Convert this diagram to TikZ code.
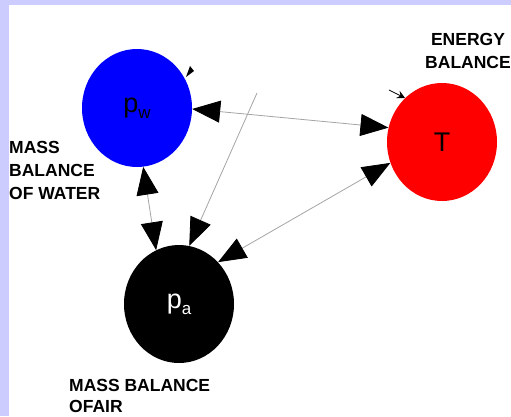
\documentclass[tikz,border=0pt]{standalone}
\usepackage{fontspec}
\setmainfont{Liberation Sans}
\usetikzlibrary{arrows.meta,shapes.geometric}
\definecolor{lav}{RGB}{204,204,255}
\definecolor{linegray}{RGB}{165,165,165}
\begin{document}
\begin{tikzpicture}[x=1pt,y=-1pt,
  ball/.style={ellipse,minimum width=110pt,minimum height=118pt,inner sep=0pt,draw=none},
  lbl/.style={anchor=base west,inner sep=0pt,font=\fontsize{17.5}{21}\selectfont\bfseries},
  lblc/.style={anchor=base,inner sep=0pt,font=\fontsize{17.5}{21}\selectfont\bfseries},
  conn/.style={draw=linegray,line width=0.8pt},
  bigtip/.tip={Triangle[length=28pt,width=22pt,fill=black,color=black]},
  smalltip/.tip={Stealth[length=8pt,width=8pt,inset=3pt,color=black]},
  bigfont/.style={font=\fontsize{27}{27}\selectfont}
]
\useasboundingbox (0,0) rectangle (511,416);
\fill[lav] (0,0) rectangle (511,416);
\fill[white] (9,5) rectangle (511,416);

\node[ball,fill=blue,bigfont] (pw) at (137,108) {p\raisebox{-6pt}{\fontsize{17}{17}\selectfont w}};
\node[ball,fill=red,bigfont] (T) at (442,142) {T};
\node[ball,fill=black,text=white,bigfont] (pa) at (179,304) {p\raisebox{-6pt}{\fontsize{17}{17}\selectfont a}};

\coordinate (f) at (257,93);
\draw[conn,{bigtip}-{bigtip}] (pw.-1) -- (T.165);
\draw[conn,{bigtip}-{bigtip}] (pw.-84) -- (pa.113);
\draw[conn,-{bigtip}] (f) -- (pa.80);
\draw[conn,{bigtip}-{bigtip}] (T.202) -- (pa.47);

% small self-loop arrowheads
\fill[black] (186,77) -- (190,66) -- (194,71) -- cycle;
\coordinate (sc) at (389,90);
\coordinate (sd) at (405,98);
\draw[black,line width=0.8pt,-{smalltip}] (sc) -- (sd);

\node[lbl] (lw1) at (9,153) {MASS};
\node[lbl] (lw2) at (9,176) {BALANCE};
\node[lbl] (lw3) at (9,199) {OF WATER};
\node[lblc] (le1) at (468,45) {ENERGY};
\node[lblc] (le2) at (468,68) {BALANCE};
\node[lbl] (la1) at (69,391) {MASS BALANCE};
\node[lbl] (la2) at (69,412) {OFAIR};
\end{tikzpicture}
\end{document}
